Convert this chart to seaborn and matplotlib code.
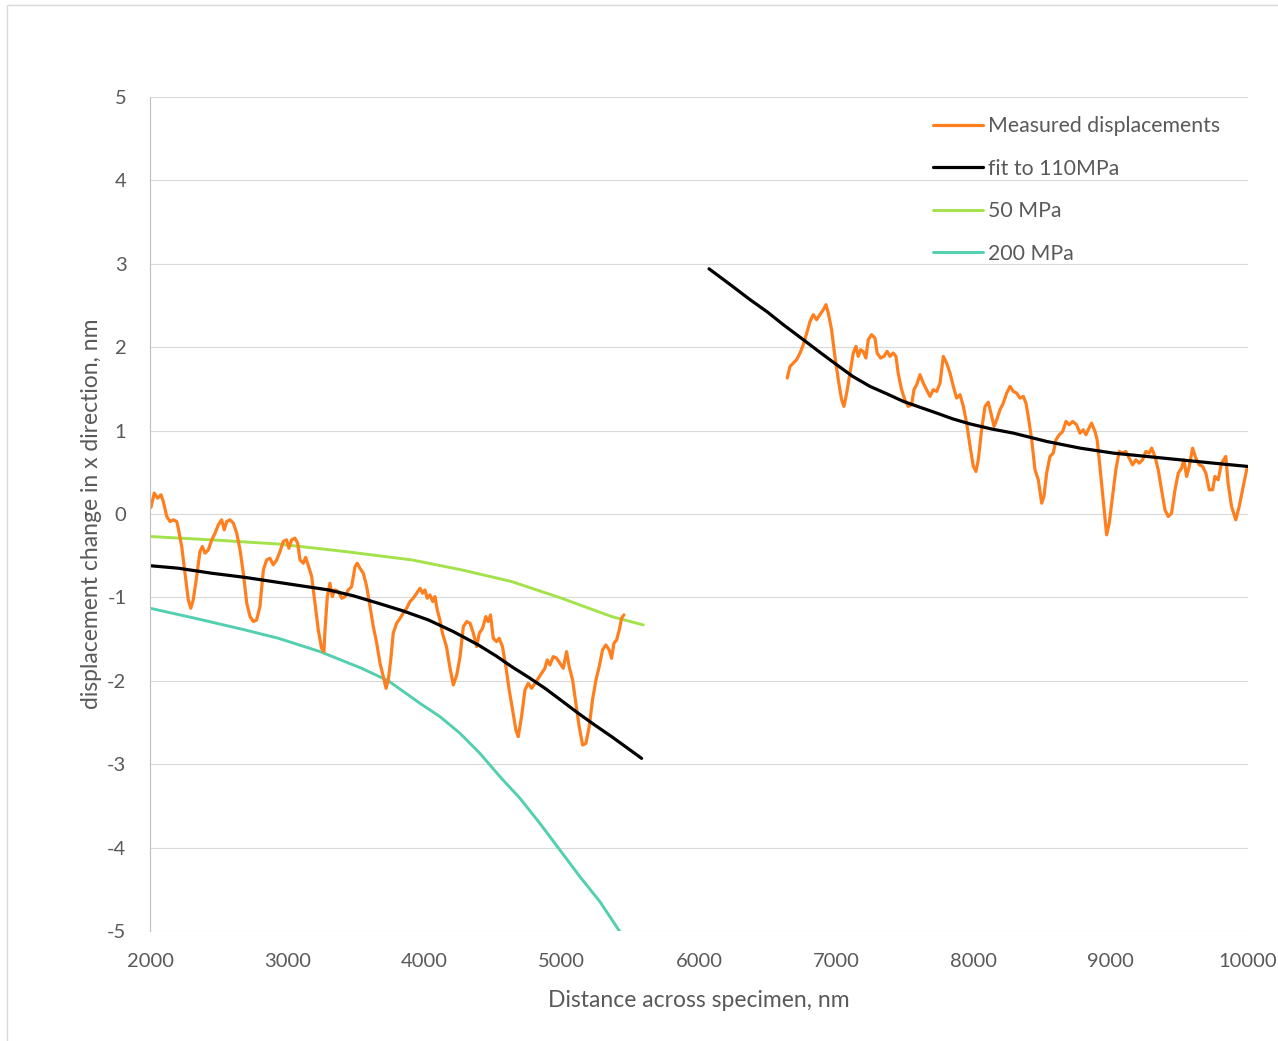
import numpy as np
import pandas as pd
import matplotlib
matplotlib.use("Agg")
import matplotlib.pyplot as plt
from matplotlib.patches import Rectangle
import seaborn as sns

# measured displacements, left part
meas_left_x = [2007, 2031, 2056, 2080, 2097, 2122, 2146, 2170, 2195, 2206, 2231, 2255, 2279, 2297,
               2315, 2340, 2364, 2381, 2401, 2425, 2450, 2474, 2498, 2522, 2541, 2559, 2583, 2607,
               2632, 2656, 2680, 2705, 2729, 2753, 2777, 2801, 2826, 2850, 2874, 2898, 2923, 2947,
               2971, 2995, 3012, 3032, 3056, 3076, 3093, 3117, 3134, 3154, 3178, 3202, 3226, 3250,
               3267, 3275, 3292, 3311, 3328, 3348, 3372, 3397, 3421, 3445, 3469, 3494, 3510, 3530,
               3554, 3579, 3603, 3627, 3652, 3676, 3700, 3720, 3736, 3754, 3772, 3797, 3822, 3845,
               3870, 3894, 3918, 3943, 3967, 3986, 4003, 4020, 4040, 4060, 4076, 4093, 4112, 4131,
               4160, 4186, 4210, 4235, 4259, 4283, 4308, 4332, 4356, 4380, 4399, 4423, 4447, 4464,
               4481, 4501, 4525, 4544, 4568, 4593, 4617, 4642, 4666, 4683, 4707, 4732, 4756, 4780,
               4805, 4829, 4853, 4877, 4894, 4914, 4938, 4963, 4987, 5011, 5035, 5054, 5079, 5103,
               5127, 5152, 5176, 5200, 5224, 5249, 5273, 5297, 5321, 5346, 5363, 5380, 5400, 5419,
               5436, 5453]
meas_left_y = [0.08, 0.25, 0.19, 0.23, 0.15, -0.03, -0.09, -0.07, -0.09, -0.17, -0.39, -0.71, -1.03, -1.13,
               -1.03, -0.75, -0.45, -0.39, -0.47, -0.43, -0.31, -0.23, -0.13, -0.07, -0.19, -0.09, -0.07, -0.11,
               -0.23, -0.43, -0.71, -1.07, -1.23, -1.29, -1.27, -1.11, -0.67, -0.55, -0.53, -0.61, -0.55, -0.45,
               -0.33, -0.31, -0.41, -0.31, -0.29, -0.35, -0.55, -0.59, -0.52, -0.62, -0.75, -1.07, -1.39, -1.61,
               -1.65, -1.39, -0.99, -0.83, -0.99, -0.91, -0.93, -1.01, -0.99, -0.91, -0.87, -0.63, -0.59, -0.65,
               -0.71, -0.87, -1.11, -1.35, -1.55, -1.79, -1.95, -2.09, -1.99, -1.75, -1.43, -1.31, -1.25, -1.19,
               -1.13, -1.05, -1.01, -0.95, -0.89, -0.95, -0.91, -1.01, -0.97, -1.05, -0.99, -1.15, -1.27, -1.43,
               -1.59, -1.85, -2.05, -1.93, -1.71, -1.35, -1.29, -1.31, -1.43, -1.59, -1.43, -1.37, -1.23, -1.29,
               -1.21, -1.49, -1.53, -1.49, -1.59, -1.83, -2.11, -2.35, -2.59, -2.67, -2.43, -2.11, -2.03, -2.09,
               -2.03, -1.97, -1.91, -1.85, -1.75, -1.81, -1.71, -1.73, -1.79, -1.85, -1.65, -1.83, -1.99, -2.27,
               -2.55, -2.77, -2.75, -2.55, -2.23, -1.99, -1.83, -1.63, -1.57, -1.63, -1.73, -1.55, -1.51, -1.39,
               -1.25, -1.21]

# measured displacements, right part
meas_right_x = [6643, 6663, 6687, 6711, 6736, 6760, 6785, 6809, 6833, 6857, 6881, 6906, 6925, 6942,
                6966, 6990, 7015, 7039, 7056, 7076, 7100, 7124, 7144, 7160, 7178, 7196, 7216, 7233,
                7257, 7282, 7298, 7323, 7347, 7371, 7391, 7415, 7435, 7451, 7476, 7500, 7524, 7549,
                7566, 7586, 7610, 7634, 7658, 7683, 7707, 7732, 7756, 7780, 7804, 7829, 7853, 7877,
                7902, 7926, 7950, 7975, 7999, 8018, 8035, 8059, 8084, 8108, 8133, 8150, 8169, 8193,
                8217, 8242, 8266, 8290, 8314, 8339, 8363, 8382, 8399, 8424, 8448, 8472, 8497, 8513,
                8533, 8557, 8581, 8601, 8625, 8650, 8674, 8698, 8722, 8751, 8775, 8800, 8819, 8836,
                8860, 8885, 8901, 8921, 8945, 8970, 8989, 9013, 9037, 9062, 9086, 9110, 9134, 9159,
                9183, 9207, 9232, 9256, 9280, 9298, 9322, 9346, 9370, 9395, 9419, 9443, 9468, 9492,
                9516, 9533, 9553, 9572, 9596, 9620, 9645, 9669, 9693, 9718, 9742, 9759, 9783, 9807,
                9838, 9855, 9880, 9911, 9936, 9965, 9990, 10000]
meas_right_y = [1.63, 1.77, 1.81, 1.85, 1.93, 2.03, 2.17, 2.31, 2.39, 2.33, 2.39, 2.45, 2.51, 2.41,
                2.21, 1.89, 1.61, 1.37, 1.29, 1.45, 1.69, 1.93, 2.01, 1.89, 1.97, 1.95, 1.87, 2.09,
                2.15, 2.11, 1.93, 1.87, 1.89, 1.95, 1.89, 1.93, 1.89, 1.69, 1.49, 1.37, 1.29, 1.31,
                1.49, 1.55, 1.67, 1.57, 1.49, 1.41, 1.49, 1.47, 1.57, 1.89, 1.81, 1.69, 1.53, 1.39,
                1.43, 1.29, 1.09, 0.81, 0.57, 0.51, 0.65, 1.01, 1.29, 1.34, 1.17, 1.05, 1.13, 1.25,
                1.33, 1.45, 1.53, 1.47, 1.45, 1.39, 1.41, 1.33, 1.17, 0.89, 0.53, 0.41, 0.13, 0.21,
                0.49, 0.69, 0.73, 0.89, 0.95, 0.99, 1.11, 1.07, 1.11, 1.07, 0.97, 1.01, 0.95, 1.01,
                1.09, 0.99, 0.89, 0.57, 0.17, -0.25, -0.11, 0.21, 0.53, 0.75, 0.73, 0.75, 0.67, 0.59,
                0.65, 0.61, 0.65, 0.75, 0.73, 0.79, 0.69, 0.53, 0.29, 0.05, -0.03, 0.01, 0.29, 0.49,
                0.55, 0.65, 0.45, 0.57, 0.79, 0.67, 0.59, 0.57, 0.49, 0.29, 0.29, 0.45, 0.41, 0.61,
                0.69, 0.37, 0.09, -0.07, 0.09, 0.33, 0.53, 0.57]

# fit to 110 MPa
fit_left_x = [2000, 2206, 2449, 2692, 2935, 3178, 3299, 3480, 3663, 3840, 4028, 4210, 4392, 4520,
              4635, 4760, 4878, 5000, 5121, 5240, 5364, 5473, 5582]
fit_left_y = [-0.62, -0.65, -0.71, -0.76, -0.82, -0.88, -0.91, -0.98, -1.07, -1.16, -1.27, -1.41, -1.57, -1.70,
              -1.83, -1.96, -2.09, -2.24, -2.39, -2.53, -2.67, -2.80, -2.93]
fit_right_x = [6073, 6220, 6372, 6500, 6614, 6760, 6880, 7003, 7120, 7246, 7370, 7489, 7610, 7732,
               7850, 7975, 8130, 8290, 8533, 8776, 9019, 9262, 9504, 9747, 10000]
fit_right_y = [2.94, 2.76, 2.57, 2.42, 2.27, 2.09, 1.94, 1.79, 1.65, 1.53, 1.44, 1.35, 1.28, 1.21,
               1.14, 1.08, 1.02, 0.97, 0.87, 0.79, 0.73, 0.69, 0.65, 0.61, 0.57]

# 50 MPa
mpa50_x = [2000, 2449, 2935, 3421, 3906, 4271, 4635, 4999, 5364, 5594]
mpa50_y = [-0.27, -0.31, -0.36, -0.45, -0.55, -0.67, -0.81, -1.01, -1.23, -1.33]

# 200 MPa
mpa200_x = [2000, 2328, 2692, 2935, 3239, 3542, 3736, 3822, 3967, 4113, 4259, 4404, 4550, 4696,
            4841, 4987, 5133, 5279, 5424]
mpa200_y = [-1.13, -1.25, -1.39, -1.49, -1.65, -1.85, -2.00, -2.10, -2.27, -2.43, -2.63, -2.87, -3.15, -3.41,
            -3.71, -4.03, -4.35, -4.65, -5.01]

c_meas = "#FF7F1E"
c_fit = "#000000"
c_50 = "#A3E24A"
c_200 = "#52CFAE"
grey = "#595959"

sns.set_theme(style="white")
plt.rcParams['font.family'] = ['Lato', 'DejaVu Sans']
plt.rcParams['axes.unicode_minus'] = False

fig = plt.figure(figsize=(12.78, 10.41), dpi=100)
ax = fig.add_axes([150 / 1278, 110 / 1041, 1098 / 1278, 834 / 1041])

sns.lineplot(x=mpa50_x, y=mpa50_y, color=c_50, lw=2.1, sort=False, ax=ax, label="50 MPa")
sns.lineplot(x=mpa200_x, y=mpa200_y, color=c_200, lw=2.1, sort=False, ax=ax, label="200 MPa")
sns.lineplot(x=meas_left_x, y=meas_left_y, color=c_meas, lw=2.3, sort=False, ax=ax,
             label="Measured displacements")
sns.lineplot(x=meas_right_x, y=meas_right_y, color=c_meas, lw=2.3, sort=False, ax=ax)
sns.lineplot(x=fit_left_x, y=fit_left_y, color=c_fit, lw=2.3, sort=False, ax=ax, label="fit to 110MPa")
sns.lineplot(x=fit_right_x, y=fit_right_y, color=c_fit, lw=2.3, sort=False, ax=ax)

ax.set_xlim(2000, 10000)
ax.set_ylim(-5, 5)
ax.set_xticks(range(2000, 10001, 1000))
ax.set_yticks(range(-5, 6))
ax.grid(axis="y", color="#d9d9d9", lw=0.8)
ax.set_axisbelow(True)
for s in ["top", "right", "bottom"]:
    ax.spines[s].set_visible(False)
ax.spines["left"].set_color("#bfbfbf")
ax.spines["left"].set_linewidth(0.8)
ax.tick_params(axis="both", length=0, labelsize=14.5, labelcolor=grey)
ax.tick_params(axis="y", pad=17)
ax.tick_params(axis="x", pad=16)
ax.set_xlabel("Distance across specimen, nm", fontsize=16.5, color=grey, labelpad=14)
ax.set_ylabel("displacement change in x direction, nm", fontsize=16.5, color=grey, labelpad=4)

handles, labels = ax.get_legend_handles_labels()
order = [labels.index(n) for n in ["Measured displacements", "fit to 110MPa", "50 MPa", "200 MPa"]]
leg = ax.legend([handles[i] for i in order], [labels[i] for i in order],
                loc="upper left", bbox_to_anchor=(933 / 1278, (1041 - 116) / 1041),
                bbox_transform=fig.transFigure, frameon=False, fontsize=15.3,
                handlelength=2.35, handletextpad=0.22, labelspacing=1.06, borderpad=0, borderaxespad=0)
for t in leg.get_texts():
    t.set_color(grey)

fig.patches.append(Rectangle((7 / 1278, -0.01), 1.02, (1041 - 5) / 1041 + 0.01,
                             transform=fig.transFigure, fill=False, edgecolor="#d9d9d9", lw=1))

fig.savefig("out.png", dpi=100, facecolor="white")
